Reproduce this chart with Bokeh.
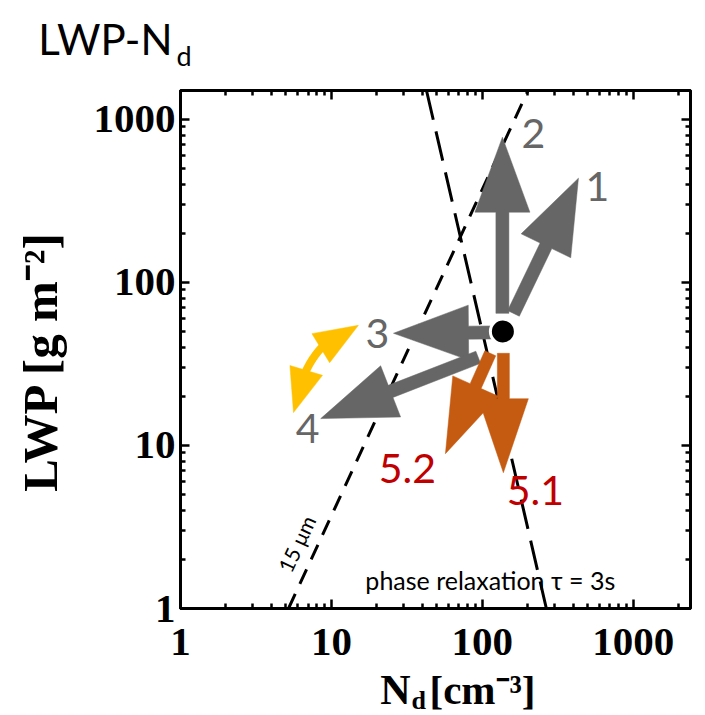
import numpy as np
from bokeh.plotting import figure
from bokeh.layouts import column, row
from bokeh.models import LogAxis, FixedTicker, Range1d
from bokeh.core.properties import value
from bokeh.embed import file_html
from bokeh.resources import INLINE

# ---------------- data ----------------
x_lim = [1, 2400]
y_lim = [1, 1500]
x_major = [1, 10, 100, 1000]
y_major = [1, 10, 100, 1000]
x_minor = [2, 3, 4, 5, 6, 7, 8, 9, 20, 30, 40, 50, 60, 70, 80, 90,
           200, 300, 400, 500, 600, 700, 800, 900, 2000]
y_minor = [2, 3, 4, 5, 6, 7, 8, 9, 20, 30, 40, 50, 60, 70, 80, 90,
           200, 300, 400, 500, 600, 700, 800, 900]
tick_text = {1: "1", 10: "10", 100: "100", 1000: "1000"}

# initial state (black dot)
state_N = [137]
state_LWP = [50]

# grey arrows 1-4 : start / end points
gray_ids = ["1", "2", "3", "4"]
gray_N0 = [161, 136, 119, 94]
gray_L0 = [64.5, 64.5, 49.3, 34.7]
gray_N1 = [434, 136, 25.8, 8.5]
gray_L1 = [435, 776, 48.7, 14.6]
gray_lab_N = [580, 218, 20.2, 6.95]
gray_lab_L = [388, 820, 48.7, 12.7]

# orange arrows 5.1 / 5.2
orange_ids = ["5.1", "5.2"]
orange_N0 = [138, 113]
orange_L0 = [36.7, 36.7]
orange_N1 = [138, 57]
orange_L1 = [6.8, 8.9]
orange_lab_N = [225, 31.9]
orange_lab_L = [5.3, 7.2]

# yellow double arrow: lower tip, bend, upper tip
yellow_N = [5.61, 6.74, 15.1]
yellow_L = [15.9, 44.1, 54.5]

# reference lines
tau_N = [42.7, 266]
tau_L = [1500, 1]
r15_N = [5.2, 201]
r15_L = [1, 1500]

# ---------------- styling ----------------
FW, FH = 510, 518
GRAY = "#666666"
ORANGE = "#C55A11"
YELLOW = "#FFC000"
RED = "#C00000"
SERIF = "Liberation Serif"
SANS = "Lato"

kx = FW / np.log10(x_lim[1] / x_lim[0])
ky = FH / np.log10(y_lim[1] / y_lim[0])


def to_px(N, L):
    return np.array([np.log10(N) * kx, np.log10(L) * ky])


def to_data(pts):
    pts = np.asarray(pts)
    return list(10 ** (pts[:, 0] / kx)), list(10 ** (pts[:, 1] / ky))


def arrow_poly(N0, L0, N1, L1, sw, hl, hw):
    p0 = to_px(N0, L0)
    p1 = to_px(N1, L1)
    d = p1 - p0
    d = d / np.hypot(*d)
    n = np.array([-d[1], d[0]])
    b = p1 - d * hl
    pts = [p0 + n * sw / 2, b + n * sw / 2, b + n * hw / 2, p1,
           b - n * hw / 2, b - n * sw / 2, p0 - n * sw / 2]
    return to_data(pts)


# page geometry
TOP_H = 75
LEFT_W = 75
MAIN_L, MAIN_T, MAIN_R, MAIN_B = 105, 15, 6, 66
MAIN_W = MAIN_L + FW + MAIN_R
MAIN_H = MAIN_T + FH + MAIN_B
PAGE_W = LEFT_W + MAIN_W
OVERLAP = 10
BOT_H = 715 - TOP_H - MAIN_H + OVERLAP

p = figure(frame_width=FW, frame_height=FH, x_axis_type="log", y_axis_type="log",
           x_range=Range1d(*x_lim), y_range=Range1d(*y_lim), title=None,
           output_backend="svg", toolbar_location=None,
           min_border_left=MAIN_L, min_border_top=MAIN_T, min_border_right=MAIN_R,
           min_border_bottom=MAIN_B)
p.grid.visible = False
p.outline_line_color = "black"
p.outline_line_width = 3
p.background_fill_color = "white"
p.border_fill_color = "white"

xt = FixedTicker(ticks=x_major, minor_ticks=x_minor)
yt = FixedTicker(ticks=y_major, minor_ticks=y_minor)

for ax, tk in ((p.xaxis[0], xt), (p.yaxis[0], yt)):
    ax.ticker = tk
    ax.major_label_overrides = tick_text
    ax.major_label_text_font = SERIF
    ax.major_label_text_font_style = "bold"
    ax.major_label_text_font_size = "41px"
    ax.major_label_text_color = "black"
    ax.axis_line_width = 3
    ax.major_tick_in = 9
    ax.major_tick_out = 0
    ax.minor_tick_in = 5
    ax.minor_tick_out = 0
    ax.major_tick_line_width = 2.5
    ax.minor_tick_line_width = 2.5
p.xaxis[0].major_label_standoff = 20
p.yaxis[0].major_label_standoff = 5

for side, tk in (("above", xt), ("right", yt)):
    ax = LogAxis(ticker=tk, major_label_text_font_size="2px", major_label_text_alpha=0,
                 major_label_standoff=0,
                 axis_line_width=3, major_tick_in=9, major_tick_out=0,
                 minor_tick_in=5, minor_tick_out=0, major_tick_line_width=2.5,
                 minor_tick_line_width=2.5)
    p.add_layout(ax, side)

# reference lines
p.line(tau_N, tau_L, line_color="black", line_width=3, line_dash="30 12")
p.line(r15_N, r15_L, line_color="black", line_width=3, line_dash="16 11")

# grey arrows
xs, ys = [], []
for i in range(len(gray_ids)):
    a, b = arrow_poly(gray_N0[i], gray_L0[i], gray_N1[i], gray_L1[i], 13, 75, 55)
    xs.append(a)
    ys.append(b)
p.patches(xs, ys, fill_color=GRAY, line_color=GRAY, line_width=0.5)

# orange arrows
xs, ys = [], []
for i in range(len(orange_ids)):
    a, b = arrow_poly(orange_N0[i], orange_L0[i], orange_N1[i], orange_L1[i], 12, 74, 50)
    xs.append(a)
    ys.append(b)
p.patches(xs, ys, fill_color=ORANGE, line_color=ORANGE, line_width=0.5)

# yellow curved double arrow
P0 = to_px(yellow_N[0], yellow_L[0])
C = to_px(yellow_N[1], yellow_L[1])
P1 = to_px(yellow_N[2], yellow_L[2])
t = np.linspace(0, 1, 400)[:, None]
B = (1 - t) ** 2 * P0 + 2 * (1 - t) * t * C + t ** 2 * P1
seg = np.hypot(*np.diff(B, axis=0).T)
s = np.concatenate([[0], np.cumsum(seg)])
HL, HW = 44, 34
ia = np.searchsorted(s, HL)
ib = np.searchsorted(s, s[-1] - HL)
heads_x, heads_y = [], []
for tip, base in ((P0, B[ia]), (P1, B[ib])):
    d = tip - base
    d = d / np.hypot(*d)
    n = np.array([-d[1], d[0]])
    bb = tip - d * HL
    hx, hy = to_data([bb + n * HW / 2, tip, bb - n * HW / 2])
    heads_x.append(hx)
    heads_y.append(hy)
sx_, sy_ = to_data(B[ia - 3:ib + 4])
p.line(sx_, sy_, line_color=YELLOW, line_width=8)
p.patches(heads_x, heads_y, fill_color=YELLOW, line_color=YELLOW, line_width=0.5)

# state dot
p.scatter(state_N, state_LWP, size=25, fill_color="black", line_color="white", line_width=3)

# arrow labels
p.text(gray_lab_N, gray_lab_L, text=gray_ids, text_color=GRAY,
       text_font=value(SANS), text_font_size="41px",
       text_align="center", text_baseline="middle")
p.text(orange_lab_N, orange_lab_L, text=orange_ids, text_color=RED,
       text_font=value(SANS), text_font_size="41px",
       text_align="center", text_baseline="middle")

# line annotations
p.text([5.87], [2.5], text=["15 \u03bcm"], angle=1.133, text_color="black",
       text_font=value(SANS), text_font_size="21px",
       text_align="center", text_baseline="middle")
p.text([16.8], [1.49], text=["phase relaxation \u03c4 = 3s"], text_color="black",
       text_font=value(SANS), text_font_size="25px",
       text_align="left", text_baseline="middle")


# ---------- text-only side figures (title, axis labels) ----------
def blank(w, h):
    f = figure(width=w, height=h, x_range=Range1d(0, w), y_range=Range1d(0, h),
               title=None, output_backend="svg", toolbar_location=None, min_border=0,
               x_axis_location=None, y_axis_location=None)
    f.grid.visible = False
    f.outline_line_color = None
    f.background_fill_color = "white"
    f.border_fill_color = "white"
    f.background_fill_alpha = 0
    f.border_fill_alpha = 0
    return f


def txt(f, x, y, s, font, size, style="normal", align="left", angle=0.0):
    f.text([x], [y], text=[s], text_font=value(font), text_font_size=size,
           text_font_style=style, text_align=align, text_baseline="middle",
           angle=angle, text_color="black")


# title (page y of the text middles)
top = blank(PAGE_W, TOP_H)
txt(top, 172, TOP_H - 38, "LWP-N", SANS, "42px", align="right")
txt(top, 176, TOP_H - 55, "d", SANS, "27px")

# y axis label
left = blank(LEFT_W, MAIN_H)
txt(left, 40, MAIN_H - (388 - TOP_H), "LWP [g m\u207b\u00b2]", SERIF, "49px",
    style="bold", align="center", angle=float(np.pi / 2))

# x axis label (page y of the text middles); figure overlaps the empty
# strip under the tick labels
bot = blank(PAGE_W, BOT_H)
bot.margin = (-OVERLAP, 0, 0, 0)
txt(bot, 410, 715 - 689, "N", SERIF, "42px", style="bold", align="right")
txt(bot, 411, 715 - 700, "d", SERIF, "26px", style="bold")
txt(bot, 429, 715 - 689, "[cm\u207b\u00b3]", SERIF, "41px", style="bold")

page = column(top, row(left, p), bot)
open("out.html", "w").write(file_html(page, INLINE))
